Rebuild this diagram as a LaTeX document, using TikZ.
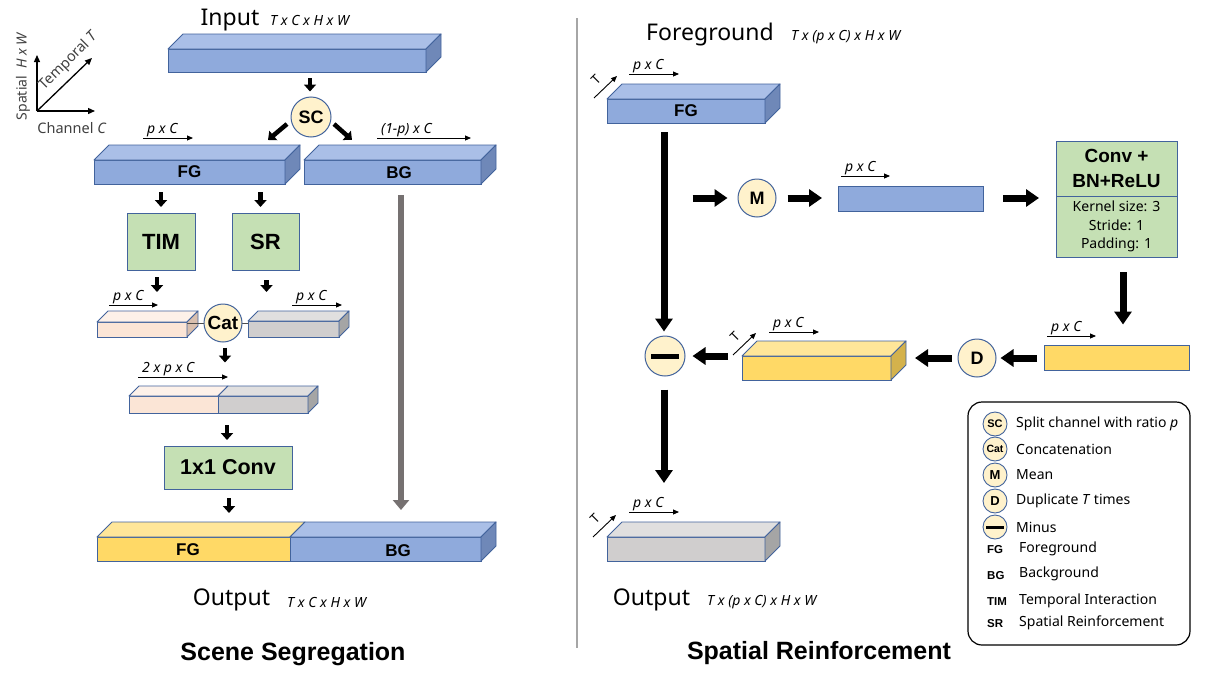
\documentclass[tikz,border=0pt]{standalone}
\usepackage{fontspec}
\setmainfont{Noto Sans}[BoldFont={Liberation Sans Bold}]
\newfontfamily\titlefont{Liberation Sans}
\usetikzlibrary{arrows.meta,calc}
\definecolor{edgec}{HTML}{42639C}
\definecolor{blueF}{HTML}{8FAADC}
\definecolor{blueT}{HTML}{AABFE7}
\definecolor{blueS}{HTML}{6F88B8}
\definecolor{yelF}{HTML}{FFD966}
\definecolor{yelT}{HTML}{FFE699}
\definecolor{yelS}{HTML}{D4B24C}
\definecolor{pinkF}{HTML}{FBE5D6}
\definecolor{pinkT}{HTML}{FDF1E9}
\definecolor{pinkS}{HTML}{D9BFAE}
\definecolor{grayF}{HTML}{D0CECE}
\definecolor{grayT}{HTML}{E0DFDF}
\definecolor{grayS}{HTML}{A5A5A5}
\definecolor{gfill}{HTML}{C5E0B4}
\definecolor{circ}{HTML}{FFF2CC}
\definecolor{arrg}{HTML}{767171}
\definecolor{axtxt}{HTML}{404040}
\newcommand\fsz[1]{\fontsize{#1}{#1}\selectfont}
\newcommand\cubtop[3]{\filldraw[fill=#3,cubedge] (#1.north west) -- ++(#2pt,#2pt) -- ($(#1.north east)+(#2pt,#2pt)$) -- (#1.north east) -- cycle;}
\newcommand\cubside[3]{\filldraw[fill=#3,cubedge] (#1.north east) -- ++(#2pt,#2pt) -- ($(#1.south east)+(#2pt,#2pt)$) -- (#1.south east) -- cycle;}
\newcommand\dimlab[5]{\coordinate (#1) at (#2,#3);
  \draw[darr] (#1) -- ++(#4pt,0pt);
  \node[dimt] (#1t) at ($(#1)+(4pt,5pt)$) {#5};}
\newcommand\tlab[3]{\coordinate (#1) at (#2,#3);
  \draw[darr] (#1) -- ++(23pt,22pt);
  \node[rotate=45, font=\fsz{13}, inner sep=0pt] (#1t) at ($(#1)+(2pt,18pt)$) {T};}
\begin{document}
\begin{tikzpicture}[x=1pt,y=-1pt,
  cube/.style={draw=edgec, line width=0.9pt, inner sep=0pt, outer sep=0pt, font=\bfseries\fsz{17}},
  cubedge/.style={draw=edgec, line width=0.9pt, line join=round},
  flat/.style={draw=edgec, line width=0.9pt, inner sep=0pt, outer sep=0pt},
  opc/.style={circle, draw=edgec, line width=1pt, fill=circ, minimum size=40pt, inner sep=0pt, font=\bfseries\fsz{18}},
  legc/.style={circle, draw=edgec, line width=0.9pt, fill=circ, minimum size=24pt, inner sep=0pt, font=\bfseries\fsz{11}},
  gbox/.style={draw=edgec, line width=1pt, fill=gfill, inner sep=0pt, outer sep=0pt, font=\bfseries\fsz{22}},
  sarr/.style={line width=4.5pt, -{Triangle[width=12pt,length=7pt]}},
  barr/.style={line width=7pt, -{Triangle[width=17pt,length=13pt]}},
  garr/.style={line width=6.5pt, draw=arrg, -{Triangle[width=16pt,length=10pt]}},
  darr/.style={line width=0.9pt, -{Triangle[width=5pt,length=6pt]}},
  axarr/.style={line width=1.3pt, -{Triangle[width=6pt,length=7pt]}},
  dimt/.style={font=\itshape\fsz{14}, inner sep=0pt, anchor=base west},
  bigt/.style={font=\fsz{23}, inner sep=0pt},
  lab/.style={font=\bfseries\fsz{17}, inner sep=0pt},
  legt/.style={anchor=west, font=\fsz{14}, inner sep=0pt},
  legs/.style={anchor=west, font=\bfseries\fsz{11.5}, inner sep=0pt}
]
\fill[white] (0,0) rectangle (1206,696);
\useasboundingbox (0,0) rectangle (1206,696);

% ---------------- axes ----------------
\coordinate (ax0) at (37,111);
\coordinate (axU) at (37,55);
\coordinate (axR) at (95,111);
\coordinate (axD) at (92,58);
\draw[axarr] (ax0) -- (axU);
\draw[axarr] (ax0) -- (axR);
\draw[axarr] (ax0) -- (axD);
\node[rotate=90, font=\fsz{14}, text=axtxt] (spatial) at (23,76) {Spatial \ \textit{H x W}};
\node[rotate=45, font=\fsz{14.5}, text=axtxt, inner sep=0pt] (temporal) at (69,61) {Temporal \textit{T}};
\node[font=\fsz{14.5}, text=axtxt] (channel) at (72,128) {Channel \textit{C}};

% ---------------- left: scene segregation ----------------
\node[bigt] (inlbl) at (230,20) {Input};
\node[dimt, anchor=west] (indim) at (270,21) {T x C x H x W};
\node[cube, fill=blueF, minimum width=258pt, minimum height=23pt] (input) at (297,60.5) {};
\cubtop{input}{15}{blueT}\cubside{input}{15}{blueS}

\node[opc] (sc) at (311,117) {SC};

\node[cube, fill=blueF, minimum width=191pt, minimum height=24pt] (fg) at (189.5,172) {FG};
\cubtop{fg}{15}{blueT}\cubside{fg}{15}{blueS}
\node[cube, fill=blueF, minimum width=177pt, minimum height=24pt] (bg) at (392.5,172) {};
\cubtop{bg}{15}{blueT}\cubside{bg}{15}{blueS}
\node[lab] (bglbl) at (399,173) {BG};

\dimlab{d1}{143}{138}{50}{p x C}
\dimlab{d2}{377}{138}{94}{(1-p) x C}

\draw[sarr] ($(input.south -| sc)+(-1pt,-6pt)$) -- ($(sc.north)+(-1pt,5pt)$);
\draw[sarr] ($(sc.center)+(-24pt,-7pt)$) -- ($(sc.center)+(-43pt,-23pt)$);
\draw[sarr] ($(sc.center)+(23pt,-7pt)$) -- ($(sc.center)+(41pt,-23pt)$);

\node[gbox, minimum width=68pt, minimum height=57pt] (tim) at (161,241.5) {TIM};
\node[gbox, minimum width=67pt, minimum height=57pt] (sr) at (265.5,241.5) {SR};
\draw[sarr] ($(fg.south -| tim)+(0,-8pt)$) -- ($(tim.north)+(0,6pt)$);
\draw[sarr] ($(fg.south -| sr)+(-5pt,-8pt)$) -- ($(sr.north)+(-5pt,6pt)$);

% pink / gray cuboids and Cat
\node[cube, fill=pinkF, minimum width=90pt, minimum height=15pt] (pink) at (142,329.5) {};
\cubtop{pink}{11}{pinkT}\cubside{pink}{11}{pinkS}
\node[cube, fill=grayF, minimum width=91pt, minimum height=16pt] (grayc) at (293.5,329) {};
\cubtop{grayc}{10}{grayT}\cubside{grayc}{10}{grayS}
\coordinate (catc) at (223,323);
\draw[line width=0.8pt, black!70] (pink.east |- catc) -- (grayc.west |- catc);
\node[opc, minimum size=38pt, font=\bfseries\fsz{19}] (cat) at (catc) {Cat};
\draw[sarr] ($(tim.south)+(-4pt,-7pt)$) -- ($(tim.south)+(-4pt,-22pt)$);
\draw[sarr] ($(sr.south)+(1pt,-10pt)$) -- ($(sr.south)+(1pt,-22pt)$);
\dimlab{d3}{109}{305}{49}{p x C}
\dimlab{d4}{292}{305}{50}{p x C}

\draw[sarr] ($(cat.south)+(2pt,-5pt)$) -- ($(cat.south)+(2pt,-20pt)$);
\dimlab{d5}{138}{377}{90}{2 x p x C}

\node[cube, fill=pinkF, minimum width=89pt, minimum height=17pt] (comb1) at (173.5,404.5) {};
\node[cube, fill=grayF, minimum width=90pt, minimum height=17pt] (comb2) at (263,404.5) {};
\cubtop{comb1}{10}{pinkT}\cubtop{comb2}{10}{grayT}\cubside{comb2}{10}{grayS}

\node[gbox, minimum width=128pt, minimum height=43pt, font=\bfseries\fsz{21.5}] (conv1) at (228,467.5) {1x1 Conv};
\draw[sarr] ($(comb1.south east)+(9pt,-12pt)$) -- ($(comb1.south east)+(9pt,-27pt)$);
\draw[sarr] ($(conv1.south)+(1pt,-9pt)$) -- ($(conv1.south)+(1pt,-24pt)$);

\node[cube, fill=yelF, minimum width=193pt, minimum height=24pt] (outfg) at (193.5,549) {};
\node[cube, fill=blueF, minimum width=191pt, minimum height=24pt] (outbg) at (385.5,549) {};
\cubtop{outfg}{15}{yelT}\cubtop{outbg}{15}{blueT}\cubside{outbg}{15}{blueS}
\node[lab] (outfglbl) at (188,550) {FG};
\node[lab] (outbglbl) at (398,551) {BG};

\draw[garr] ($(bg.south)+(8.5pt,-11pt)$) -- ($(outbg.north)+(15.5pt,27pt)$);

\node[bigt] (outlbl) at (231.5,600) {Output};
\node[dimt, anchor=west] (outdim) at (287,602) {T x C x H x W};
\node[font=\titlefont\bfseries\fsz{25}] (t1) at (293,654) {Scene Segregation};

% divider
\coordinate (divT) at (577,18);
\coordinate (divB) at (577,648);
\draw[line width=1.2pt, black!35] (divT) -- (divB);

% ---------------- right: spatial reinforcement ----------------
\node[bigt] (fglbl) at (710,35) {Foreground};
\node[dimt, anchor=west] (fgdim) at (791,37) {T x (p x C) x H x W};
\node[cube, fill=blueF, minimum width=158pt, minimum height=24pt] (fg2) at (686,111) {FG};
\cubtop{fg2}{15}{blueT}\cubside{fg2}{15}{blueS}
\tlab{t2a}{594}{98}
\dimlab{d6}{629}{74}{50}{p x C}

\node[opc, minimum size=38pt] (mean) at (757,198) {M};
\node[flat, fill=blueF, minimum width=145pt, minimum height=25pt] (brect) at (910.5,198.5) {};
\dimlab{d7}{841}{176}{49}{p x C}

\node[gbox, minimum width=121pt, minimum height=55pt, align=center, font=\bfseries\fontsize{19}{25}\selectfont] (convT) at (1116.5,168.5) {Conv +\\BN+ReLU};
\node[gbox, minimum width=121pt, minimum height=61pt, align=center, font=\fontsize{14}{18.5}\selectfont] (convB) at (1116.5,226.5) {Kernel size: 3\\Stride: 1\\Padding: 1};

\node[flat, fill=yelF, minimum width=145pt, minimum height=25pt] (yrect) at (1116.5,358) {};
\dimlab{d8}{1047}{336}{49}{p x C}
\node[opc, minimum size=38pt] (dup) at (977,358) {D};

\node[cube, fill=yelF, minimum width=149pt, minimum height=24pt] (ycub) at (816.5,368) {};
\cubtop{ycub}{15}{yelT}\cubside{ycub}{15}{yelS}
\tlab{t2b}{733}{355}
\dimlab{d9}{769}{332}{50}{p x C}

\node[opc] (minus) at (665,356) {\rule{28pt}{5pt}};

\node[cube, fill=grayF, minimum width=158pt, minimum height=24pt] (gcub2) at (686,549) {};
\cubtop{gcub2}{15}{grayT}\cubside{gcub2}{15}{grayS}
\tlab{t2c}{593}{537}
\dimlab{d10}{629}{512}{50}{p x C}

% arrows right
\draw[barr] ($(fg2.south -| minus)+(-1pt,-9pt)$) -- ($(minus.north)+(-1pt,4pt)$);
\draw[barr] ($(mean.west)+(-45pt,0)$) -- ($(mean.west)+(-10pt,0)$);
\draw[barr] ($(mean.east)+(11pt,0)$) -- ($(brect.west |- mean.east)+(-16pt,0)$);
\draw[barr] ($(brect.east |- mean.east)+(20pt,0)$) -- ($(convT.west |- mean.east)+(-17pt,0)$);
\draw[barr] ($(convB.south)+(6.5pt,-15pt)$) -- ($(yrect.north)+(6.5pt,21pt)$);
\draw[barr] ($(yrect.west)+(-7pt,0)$) -- ($(dup.east)+(4pt,0)$);
\draw[barr] ($(dup.west)+(-6pt,0)$) -- ($(ycub.east |- dup.west)+(24pt,0)$);
\draw[barr] ($(ycub.west |- minus)+(-14pt,0)$) -- ($(minus.east)+(7pt,0)$);
\draw[barr] ($(minus.south)+(-1pt,-13pt)$) -- ($(gcub2.north -| minus)+(-1pt,54pt)$);

\node[bigt] (out2lbl) at (651.5,600) {Output};
\node[dimt, anchor=west] (out2dim) at (707,602) {T x (p x C) x H x W};
\node[font=\titlefont\bfseries\fsz{25}] (t2) at (819,653) {Spatial Reinforcement};

% ---------------- legend ----------------
\node[draw, line width=1.2pt, rounded corners=14pt, minimum width=222pt, minimum height=243pt] (legend) at (1079,523.5) {};
\node[legc] (lsc) at (995,424) {SC};
\node[legt] (lsct) at (1016,424) {Split channel with ratio \textit{p}};
\node[legc, font=\bfseries\fsz{10.5}] (lcat) at (995,449) {Cat};
\node[legt] (lcatt) at (1016,449) {Concatenation};
\node[legc, font=\bfseries\fsz{13}] (lm) at (995,475) {M};
\node[legt] (lmt) at (1016,475) {Mean};
\node[legc, font=\bfseries\fsz{13}] (ld) at (995,501) {D};
\node[legt] (ldt) at (1016,501) {Duplicate \textit{T} times};
\node[legc] (lmin) at (995,527) {\rule{18pt}{3pt}};
\node[legt] (lmint) at (1016,527) {Minus};
\node[legs] (lfg) at (987,550) {FG};
\node[legt] (lfgt) at (1019,549) {Foreground};
\node[legs] (lbg) at (987,576) {BG};
\node[legt] (lbgt) at (1019,574) {Background};
\node[legs] (ltim) at (987,602) {TIM};
\node[legt] (ltimt) at (1019,601) {Temporal Interaction};
\node[legs] (lsr) at (987,624) {SR};
\node[legt] (lsrt) at (1019,623) {Spatial Reinforcement};
\end{tikzpicture}
\end{document}
